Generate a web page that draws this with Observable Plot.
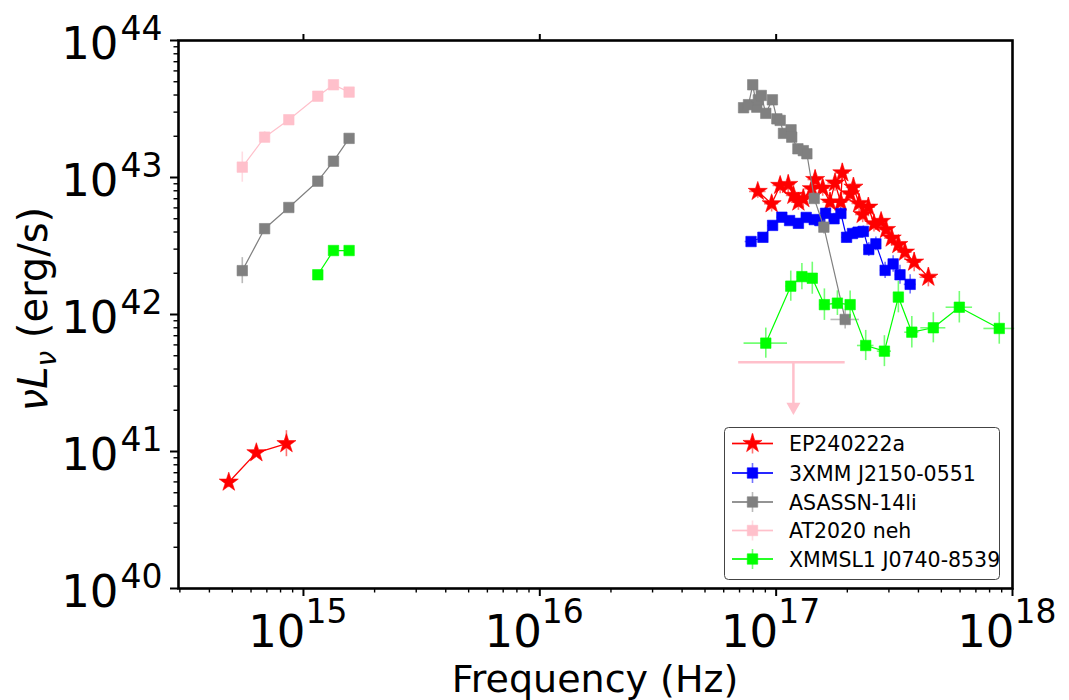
<!DOCTYPE html>
<html><head><meta charset="utf-8">
<script src="https://cdn.jsdelivr.net/npm/d3@7"></script>
<script src="https://cdn.jsdelivr.net/npm/@observablehq/plot@0.6"></script>
<style>
html,body{margin:0;padding:0;background:#fff;}
#wrap{width:1069px;height:700px;font-family:"DejaVu Sans";}
</style></head><body><div id="wrap"></div>
<script>
// ---------- data (frequency in Hz, nuL_nu in erg/s, errors in dex) ----------
const uvotNu = [5.51e14, 6.85e14, 8.67e14, 1.15e15, 1.34e15, 1.56e15];

// EP240222a (red stars)
const epOptNu  = [4.83e14, 6.32e14, 8.47e14];
const epOptL   = [5.97e40, 9.79e40, 1.14e41];
const epOptYe  = [0.04, 0.03, 0.095];
const epXNu = [8.36e16, 9.57e16, 1.04e17, 1.125e17, 1.183e17, 1.242e17, 1.303e17, 1.416e17, 1.462e17,
               1.574e17, 1.69e17, 1.774e17, 1.875e17, 1.905e17, 2.056e17, 2.123e17, 2.244e17, 2.323e17,
               2.455e17, 2.594e17, 2.78e17, 2.917e17, 3.083e17, 3.289e17, 3.508e17, 3.837e17, 4.406e17];
const epXL  = [7.91e42, 6.43e42, 8.75e42, 8.89e42, 7.40e42, 6.61e42, 7.00e42, 8.28e42, 9.66e42,
               8.37e42, 6.61e42, 9.12e42, 6.61e42, 1.08e43, 7.60e42, 8.49e42, 6.46e42, 5.37e42,
               6.07e42, 4.59e42, 4.78e42, 4.17e42, 3.61e42, 3.24e42, 2.85e42, 2.41e42, 1.87e42];
const epXYe = [0.05, 0.06, 0.06, 0.07, 0.06, 0.06, 0.07, 0.06, 0.07, 0.06, 0.07, 0.06, 0.07, 0.07,
               0.06, 0.07, 0.07, 0.06, 0.07, 0.06, 0.06, 0.06, 0.06, 0.06, 0.06, 0.07, 0.07];
const epXXe = [0.035, 0.03, 0.03, 0.03, 0.03, 0.03, 0.03, 0.03, 0.03, 0.03, 0.03, 0.03, 0.03, 0.03,
               0.03, 0.03, 0.03, 0.03, 0.03, 0.03, 0.03, 0.03, 0.03, 0.03, 0.03, 0.03, 0.035];

// 3XMM J2150-0551 (blue squares)
const xmmNu = [7.83e16, 8.79e16, 9.66e16, 1.057e17, 1.14e17, 1.242e17, 1.34e17, 1.449e17, 1.531e17,
               1.618e17, 1.758e17, 1.879e17, 1.986e17, 2.104e17, 2.223e17, 2.339e17, 2.466e17, 2.642e17,
               2.891e17, 3.126e17, 3.342e17, 3.69e17];
const xmmL  = [3.41e42, 3.66e42, 4.47e42, 5.13e42, 4.85e42, 4.63e42, 5.11e42, 4.93e42, 4.85e42,
               5.48e42, 5.00e42, 5.46e42, 3.66e42, 3.90e42, 3.99e42, 4.04e42, 2.98e42, 3.28e42,
               2.10e42, 2.34e42, 1.95e42, 1.66e42];
const xmmYe = [0.03, 0.03, 0.03, 0.03, 0.03, 0.03, 0.03, 0.03, 0.03, 0.04, 0.04, 0.04, 0.04, 0.04,
               0.04, 0.04, 0.05, 0.05, 0.06, 0.06, 0.07, 0.07];
const xmmXe = [0.025, 0.02, 0.02, 0.02, 0.02, 0.02, 0.02, 0.02, 0.02, 0.02, 0.02, 0.02, 0.02, 0.02,
               0.02, 0.02, 0.02, 0.02, 0.02, 0.02, 0.02, 0.025];

// ASASSN-14li (gray squares)
const asnOptL  = [2.09e42, 4.23e42, 6.04e42, 9.40e42, 1.315e43, 1.93e43];
const asnOptYe = [0.095, 0.02, 0.015, 0.015, 0.015, 0.015];
const asnXNu = [7.28e16, 7.64e16, 7.96e16, 8.28e16, 8.41e16, 8.65e16, 9.04e16, 9.64e16, 1.007e17,
                1.04e17, 1.074e17, 1.156e17, 1.164e17, 1.236e17, 1.303e17, 1.349e17, 1.449e17, 1.592e17,
                1.959e17];
const asnXL  = [3.23e43, 3.40e43, 4.75e43, 3.26e43, 3.69e43, 3.97e43, 2.94e43, 3.69e43, 2.68e43,
                2.61e43, 2.10e43, 2.23e43, 1.97e43, 1.62e43, 1.57e43, 1.49e43, 7.03e42, 4.34e42,
                9.20e41];
const asnXYe = [0.03, 0.03, 0.03, 0.03, 0.03, 0.03, 0.03, 0.03, 0.03, 0.03, 0.03, 0.03, 0.03, 0.03,
                0.03, 0.035, 0.04, 0.05, 0.07];
const asnXXe = [0.01, 0.01, 0.01, 0.01, 0.01, 0.01, 0.01, 0.01, 0.01, 0.01, 0.01, 0.01, 0.01, 0.01,
                0.01, 0.01, 0.015, 0.02, 0.06];

// AT2020neh (pink squares + X-ray upper limit)
const atOptL  = [1.19e43, 1.97e43, 2.64e43, 3.92e43, 4.75e43, 4.20e43];
const atOptYe = [0.11, 0.04, 0.015, 0.015, 0.015, 0.015];
const atUpperNu = [1.183e17];
const atUpperL  = [4.49e41];
const atUpperNuLo = [6.94e16];
const atUpperNuHi = [1.959e17];
const atUpperArrowTo = [2.12e41];

// XMMSL1 J0740-8539 (green squares)
const xslOptNu = [1.15e15, 1.34e15, 1.56e15];
const xslOptL  = [1.95e42, 2.93e42, 2.93e42];
const xslXNu = [9.04e16, 1.153e17, 1.285e17, 1.422e17, 1.6e17, 1.816e17, 2.056e17, 2.393e17, 2.871e17,
                3.289e17, 3.75e17, 4.624e17, 5.957e17, 8.79e17];
const xslXL  = [6.18e41, 1.61e42, 1.89e42, 1.84e42, 1.18e42, 1.21e42, 1.18e42, 5.94e41, 5.40e41,
                1.34e42, 7.43e41, 8.00e41, 1.13e42, 7.91e41];
const xslXYe = [0.11, 0.11, 0.095, 0.117, 0.115, 0.09, 0.1, 0.11, 0.113, 0.115, 0.115, 0.11, 0.115, 0.115];
const xslXXe = [0.092, 0.02, 0.02, 0.02, 0.02, 0.02, 0.02, 0.035, 0.03, 0.015, 0.03, 0.053, 0.056, 0.065];

// legend
const seriesNames  = ["EP240222a", "3XMM J2150-0551", "ASASSN-14li", "AT2020 neh", "XMMSL1 J0740-8539"];
const seriesColors = ["#ff0000", "#0000ff", "#808080", "#ffc0cb", "#00ff00"];
const seriesSymbols = ["star", "square", "square", "square", "square"];

// axis ticks
const xMajor = [1e15, 1e16, 1e17, 1e18];
const xTopMajor = [1e15, 1e16, 1e17];
const xExp = ["15", "16", "17", "18"];
const yMajor = [1e40, 1e41, 1e42, 1e43, 1e44];
const yExp = ["40", "41", "42", "43", "44"];
const minorMant = [2, 3, 4, 5, 6, 7, 8, 9];
const xMinor = [14, 15, 16, 17].flatMap(e => minorMant.map(m => m * 10 ** e)).filter(v => v >= 3e14 && v < 1e18);
const yMinor = [40, 41, 42, 43].flatMap(e => minorMant.map(m => m * 10 ** e));

// ---------- helpers ----------
function rows(nu, L, ye, xe) {
  return nu.map((v, i) => ({nu: v, L: L[i], ye: ye ? ye[i] : 0.01, xe: xe ? xe[i] : 0.008}));
}
function seriesMarks(data, color, symbol, r, lineW) {
  return [
    Plot.ruleX(data, {x: "nu", y1: d => d.L / 10 ** d.ye, y2: d => d.L * 10 ** d.ye, stroke: color, strokeOpacity: 0.55, strokeWidth: 1.6}),
    Plot.ruleY(data, {y: "L", x1: d => d.nu / 10 ** d.xe, x2: d => d.nu * 10 ** d.xe, stroke: color, strokeOpacity: 0.55, strokeWidth: 1.6}),
    Plot.line(data, {x: "nu", y: "L", stroke: color, strokeWidth: lineW}),
    Plot.dot(data, {x: "nu", y: "L", symbol, r, fill: color, stroke: color, strokeWidth: 0.6})
  ];
}

const epOpt = rows(epOptNu, epOptL, epOptYe, null);
const epX = rows(epXNu, epXL, epXYe, epXXe);
const xmmX = rows(xmmNu, xmmL, xmmYe, xmmXe);
const asnOpt = rows(uvotNu, asnOptL, asnOptYe, null);
const asnX = rows(asnXNu, asnXL, asnXYe, asnXXe);
const atOpt = rows(uvotNu, atOptL, atOptYe, null);
const xslOpt = rows(xslOptNu, xslOptL, null, null);
const xslX = rows(xslXNu, xslXL, xslXYe, xslXXe);
const atUL = atUpperNu.map((v, i) => ({nu: v, L: atUpperL[i], lo: atUpperNuLo[i], hi: atUpperNuHi[i], to: atUpperArrowTo[i]}));

const rStar = 6, rSq = 5.9;

const chart = Plot.plot({
  width: 1069, height: 700,
  marginLeft: 178, marginRight: 57, marginTop: 40, marginBottom: 112,
  style: {fontFamily: "DejaVu Sans", background: "white", color: "black", overflow: "visible"},
  x: {type: "log", domain: [2.96e14, 1e18], axis: null},
  y: {type: "log", domain: [1e40, 1e44], axis: null},
  marks: [
    ...seriesMarks(epOpt, seriesColors[0], "star", rStar, 1.3),
    ...seriesMarks(epX, seriesColors[0], "star", rStar, 1.3),
    ...seriesMarks(xmmX, seriesColors[1], "square", rSq, 1.2),
    ...seriesMarks(asnOpt, seriesColors[2], "square", rSq, 1.2),
    ...seriesMarks(asnX, seriesColors[2], "square", rSq, 1.2),
    ...seriesMarks(atOpt, seriesColors[3], "square", rSq, 1.2),
    Plot.ruleY(atUL, {y: "L", x1: "lo", x2: "hi", stroke: seriesColors[3], strokeWidth: 2.5}),
    Plot.ruleX(atUL, {x: "nu", y1: "L", y2: "to", stroke: seriesColors[3], strokeWidth: 2.5}),
    Plot.dot(atUL, {x: "nu", y: "to", symbol: "triangle", rotate: 180, r: 5.2, fill: seriesColors[3], stroke: "none"}),
    ...seriesMarks(xslOpt, seriesColors[4], "square", rSq, 1.2),
    ...seriesMarks(xslX, seriesColors[4], "square", rSq, 1.2),
    // axes
    Plot.axisX(xMinor, {anchor: "bottom", tickSize: 4.5, strokeWidth: 1.4, tickFormat: () => "", label: null}),
    Plot.axisX(xMajor, {anchor: "bottom", tickSize: 8, strokeWidth: 2, tickFormat: () => "", label: null}),
    Plot.axisX(xTopMajor, {anchor: "top", tickSize: 7, strokeWidth: 2, tickFormat: () => "", label: null}),
    Plot.axisY(yMinor, {anchor: "left", tickSize: 4.5, strokeWidth: 1.4, tickFormat: () => "", label: null}),
    Plot.axisY(yMajor, {anchor: "left", tickSize: 8, strokeWidth: 2, tickFormat: () => "", label: null}),
    Plot.frame({stroke: "black", strokeWidth: 2.6}),
    // tick labels
    Plot.text(xMajor, {x: d => d, frameAnchor: "bottom", text: () => "10", textAnchor: "end", lineAnchor: "bottom", dy: 58, dx: 2, fontSize: 45, fill: "black"}),
    Plot.text(xMajor, {x: d => d, frameAnchor: "bottom", text: (d, i) => xExp[i], textAnchor: "start", lineAnchor: "bottom", dy: 34, dx: 2, fontSize: 33, fill: "black"}),
    Plot.text(yMajor, {y: d => d, frameAnchor: "left", text: () => "10", textAnchor: "end", lineAnchor: "bottom", dy: 18, dx: -60, fontSize: 45, fill: "black"}),
    Plot.text(yMajor, {y: d => d, frameAnchor: "left", text: (d, i) => yExp[i], textAnchor: "start", lineAnchor: "bottom", dy: -1, dx: -58, fontSize: 33, fill: "black"})
  ]
});

document.getElementById("wrap").appendChild(chart);

// ---------- titles and legend ----------
const svg = d3.select(chart);
svg.append("text")
  .attr("x", 595).attr("y", 692).attr("text-anchor", "middle")
  .attr("font-family", "DejaVu Sans").attr("font-size", 38).attr("fill", "black")
  .text("Frequency (Hz)");

const yt = svg.append("text")
  .attr("transform", "translate(47,309) rotate(-90)").attr("text-anchor", "middle")
  .attr("font-family", "DejaVu Sans").attr("font-size", 40).attr("fill", "black");
yt.append("tspan").attr("font-style", "italic").text("νL");
yt.append("tspan").attr("font-style", "italic").attr("font-size", 28).attr("dy", 9).text("ν");
yt.append("tspan").attr("dy", -9).text(" (erg/s)");

const lg = svg.append("g");
lg.append("rect").attr("x", 724.5).attr("y", 427.5).attr("width", 275).attr("height", 152).attr("rx", 4)
  .attr("fill", "white").attr("fill-opacity", 0.8).attr("stroke", "#444").attr("stroke-width", 1);
const rowY = [443.5, 473, 502, 530.5, 559];
seriesNames.forEach((name, i) => {
  const y = rowY[i], c = seriesColors[i];
  lg.append("line").attr("x1", 732).attr("x2", 773).attr("y1", y).attr("y2", y).attr("stroke", c).attr("stroke-width", 1.3);
  lg.append("line").attr("x1", 732).attr("x2", 773).attr("y1", y).attr("y2", y).attr("stroke", c).attr("stroke-opacity", 0.5).attr("stroke-width", 1.6);
  lg.append("line").attr("x1", 752.5).attr("x2", 752.5).attr("y1", y - 10).attr("y2", y + 10).attr("stroke", c).attr("stroke-opacity", 0.55).attr("stroke-width", 1.6);
  const sym = seriesSymbols[i] === "star" ? d3.symbolStar : d3.symbolSquare;
  const r = seriesSymbols[i] === "star" ? rStar : rSq;
  lg.append("path").attr("d", d3.symbol(sym, Math.PI * r * r)()).attr("transform", `translate(752.5,${y})`)
    .attr("fill", c).attr("stroke", c).attr("stroke-width", 0.6);
  lg.append("text").attr("x", 789).attr("y", y + 7.5).attr("text-anchor", "start").attr("font-family", "DejaVu Sans").attr("font-size", 20.5)
    .attr("fill", "black").text(name);
});
</script>
</body></html>
